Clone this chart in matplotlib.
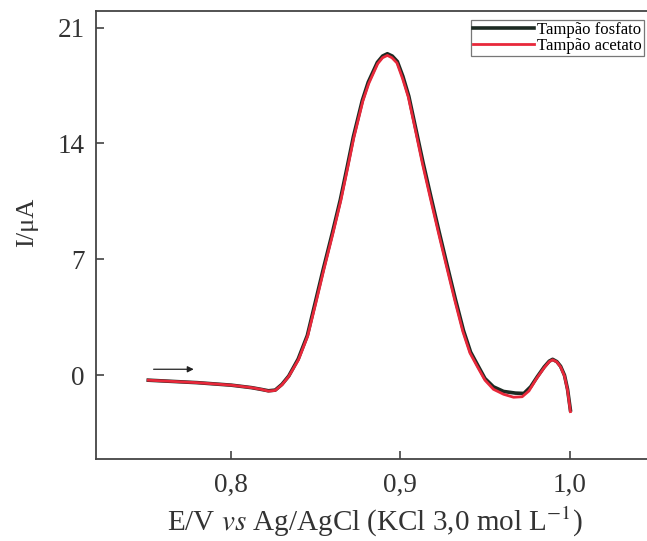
import matplotlib.pyplot as plt

plt.rcParams['font.family'] = ['Liberation Serif', 'DejaVu Serif']
plt.rcParams['mathtext.fontset'] = 'stix'

# potential (V) and current (uA)
e_fosfato = [0.751, 0.780, 0.800, 0.812, 0.818, 0.822, 0.826, 0.830, 0.834, 0.8396,
             0.845, 0.8497, 0.8544, 0.8598, 0.8645, 0.8686, 0.8722, 0.8775, 0.8810,
             0.8864, 0.8895, 0.8923, 0.8952, 0.8982, 0.9015, 0.9050, 0.9092, 0.9134,
             0.9180, 0.9228, 0.9275, 0.9325, 0.9373, 0.9415, 0.9460, 0.9500, 0.9550,
             0.9610, 0.9680, 0.9730, 0.9770, 0.9810, 0.9850, 0.9880, 0.9900, 0.9925,
             0.9947, 0.9970, 0.9988, 1.0005]
i_fosfato = [-0.30, -0.45, -0.60, -0.75, -0.86, -0.94, -0.90, -0.55, -0.05, 0.98,
             2.40, 4.40, 6.40, 8.60, 10.60, 12.60, 14.40, 16.60, 17.70,
             18.90, 19.28, 19.42, 19.28, 18.95, 18.05, 16.85, 14.85, 12.85,
             10.80, 8.70, 6.70, 4.60, 2.70, 1.40, 0.55, -0.20, -0.70,
             -0.98, -1.08, -1.10, -0.70, -0.08, 0.50, 0.85, 0.96, 0.82,
             0.54, 0.00, -0.84, -2.10]

e_acetato = [0.751, 0.780, 0.800, 0.812, 0.818, 0.822, 0.826, 0.830, 0.834, 0.8398,
             0.8452, 0.8500, 0.8547, 0.8601, 0.8648, 0.8689, 0.8725, 0.8778, 0.8813,
             0.8866, 0.8895, 0.8923, 0.8950, 0.8980, 0.9012, 0.9047, 0.9089, 0.9130,
             0.9176, 0.9224, 0.9271, 0.9321, 0.9369, 0.9411, 0.9456, 0.9500, 0.9550,
             0.9610, 0.9669, 0.9720, 0.9760, 0.9805, 0.9850, 0.9880, 0.9900, 0.9925,
             0.9947, 0.9970, 0.9988, 1.0005]
i_acetato = [-0.30, -0.45, -0.60, -0.75, -0.86, -0.96, -0.92, -0.58, -0.08, 0.94,
             2.36, 4.35, 6.35, 8.55, 10.55, 12.55, 14.35, 16.55, 17.62,
             18.82, 19.18, 19.32, 19.18, 18.86, 17.95, 16.80, 14.80, 12.80,
             10.75, 8.65, 6.65, 4.55, 2.65, 1.35, 0.50, -0.30, -0.85,
             -1.15, -1.33, -1.30, -0.95, -0.20, 0.45, 0.82, 0.93, 0.80,
             0.50, -0.05, -0.90, -2.20]

x_ticks = [0.8, 0.9, 1.0]
x_ticklabels = ['0,8', '0,9', '1,0']
y_ticks = [0, 7, 14, 21]

fig = plt.figure(figsize=(6.47, 5.41), dpi=100)
ax = fig.add_axes([0.1484, 0.1516, 0.882, 0.828])

ax.plot(e_fosfato, i_fosfato, color='#1c2a22', lw=2.6, label='Tampão fosfato',
        solid_joinstyle='round')
ax.plot(e_acetato, i_acetato, color='#e8283a', lw=2.0, label='Tampão acetato',
        solid_joinstyle='round')

# scan direction
ax.annotate('', xy=(0.7795, 0.36), xytext=(0.7525, 0.36),
            arrowprops=dict(arrowstyle='-|>', color='#222222', lw=0.9,
                            mutation_scale=9))

ax.set_xlim(0.7201, 1.0574)
ax.set_ylim(-5.06, 22.0)
ax.set_xticks(x_ticks)
ax.set_xticklabels(x_ticklabels)
ax.set_yticks(y_ticks)
ax.tick_params(direction='in', length=6, width=1.1, labelsize=19.5, colors='#333333')
ax.tick_params(axis='x', pad=10)
ax.tick_params(axis='y', pad=8)
for s in ax.spines.values():
    s.set_linewidth(1.3)
    s.set_color('#444444')

ax.set_xlabel(r'E/V $\it{vs}$ Ag/AgCl (KCl 3,0 mol L$^{-1}$)', fontsize=21,
              color='#333333')
ax.xaxis.set_label_coords(0.5 - 6 / 570, -0.103)
ax.xaxis.label.set_va('top')
ax.set_ylabel('I/μA', fontsize=19, color='#333333')
ax.yaxis.set_label_coords(-0.102, 0.528)

leg = ax.legend(loc='upper right', bbox_to_anchor=(0.9596, 0.980), fontsize=12,
                frameon=True, fancybox=False, edgecolor='#555555',
                handlelength=3.7, handletextpad=0.15, borderpad=0.12,
                labelspacing=0.0, borderaxespad=0)
leg.get_frame().set_linewidth(0.9)

fig.savefig('out.png', dpi=100)
